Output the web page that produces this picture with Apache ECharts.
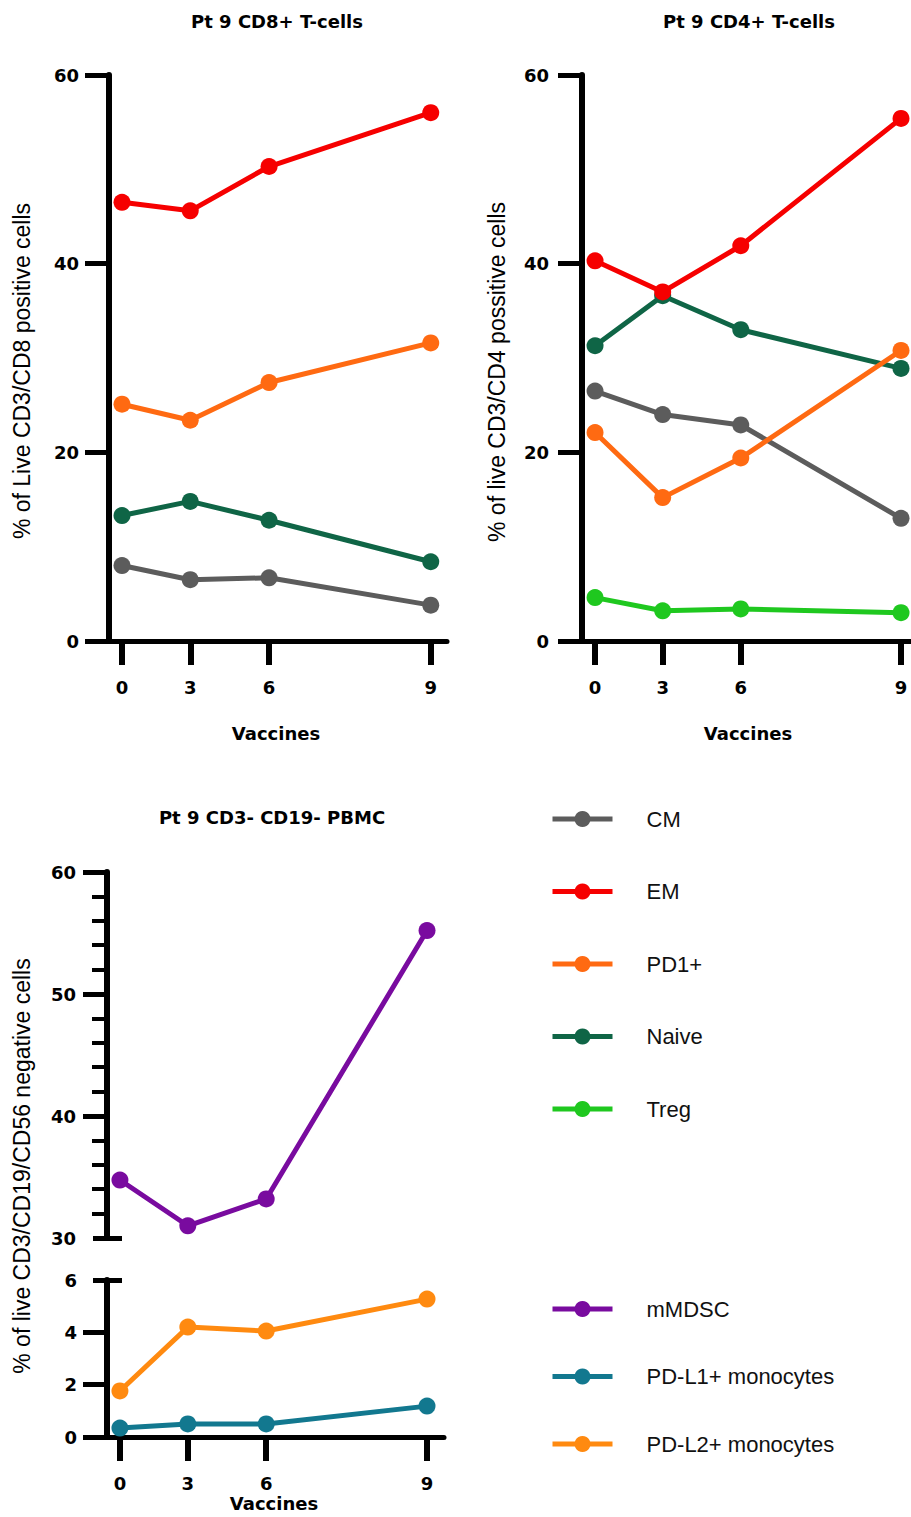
<!DOCTYPE html>
<html><head><meta charset="utf-8">
<script src="https://cdn.jsdelivr.net/npm/echarts@6/dist/echarts.min.js"></script>
<style>html,body{margin:0;padding:0;background:#fff}#c{width:911px;height:1517px}</style>
</head><body><div id="c"></div>
<script>
// ---- data ----
const vaccineLabels = ['0', '3', '6', '9'];
const vaccineTimeline = [0, 4.2, 9.05, 19]; // elapsed time at each vaccine count

const cd8CM    = [8.0, 6.5, 6.7, 3.8];
const cd8EM    = [46.5, 45.6, 50.3, 56.0];
const cd8PD1   = [25.1, 23.4, 27.4, 31.6];
const cd8Naive = [13.3, 14.8, 12.8, 8.4];

const cd4CM    = [26.5, 24.0, 22.9, 13.0];
const cd4EM    = [40.3, 37.0, 41.9, 55.4];
const cd4PD1   = [22.1, 15.2, 19.4, 30.8];
const cd4Naive = [31.3, 36.6, 33.0, 28.9];
const cd4Treg  = [4.6, 3.2, 3.4, 3.0];

const mMDSC    = [34.75, 31.0, 33.2, 55.2];
const pdl1Mono = [0.34, 0.5, 0.5, 1.18];
const pdl2Mono = [1.76, 4.2, 4.05, 5.27];

const tTicks      = [0, 20, 40, 60];
const upperTicks  = [40, 50, 60];
const upperBreak  = [30];
const lowerTicks  = [0, 2, 4];
const lowerBreak  = [6];

const legendTop = ['CM', 'EM', 'PD1+', 'Naive', 'Treg'];
const legendBottom = ['mMDSC', 'PD-L1+ monocytes', 'PD-L2+ monocytes'];

const colors = {
  'CM': '#5c5c5c', 'EM': '#f60000', 'PD1+': '#ff6a12', 'Naive': '#0f6546', 'Treg': '#1fc81f',
  'mMDSC': '#790b9f', 'PD-L1+ monocytes': '#12788f', 'PD-L2+ monocytes': '#ff8a10'
};

// ---- helpers ----
const boldFont = { fontFamily: 'DejaVu Sans', fontWeight: 'bold', fontSize: 18, color: '#000' };
function pairs(vals) { return vals.map((v, i) => [vaccineTimeline[i], v]); }
function nearestLabel(v) {
  let best = 0;
  vaccineTimeline.forEach((t, i) => { if (Math.abs(t - v) < Math.abs(vaccineTimeline[best] - v)) best = i; });
  return vaccineLabels[best];
}
function xAx(gridIndex, min, max, show) {
  return {
    type: 'value', gridIndex, min, max, show,
    axisLine: { show: true, onZero: false, lineStyle: { color: '#000', width: 5 } },
    axisTick: { show: true, customValues: vaccineTimeline, length: 24, lineStyle: { color: '#000', width: 6 } },
    axisLabel: Object.assign({ customValues: vaccineTimeline, formatter: nearestLabel, margin: 37 }, boldFont),
    splitLine: { show: false }
  };
}
function yAx(gridIndex, min, max, interval, tickVals, margin, extra) {
  const a = {
    type: 'value', gridIndex, min, max, interval, position: 'left',
    axisLine: { show: true, onZero: false, lineStyle: { color: '#000', width: 6 } },
    axisTick: { show: true, customValues: tickVals, length: 24, lineStyle: { color: '#000', width: 5 } },
    axisLabel: Object.assign({ margin }, boldFont),
    splitLine: { show: false }
  };
  return Object.assign(a, extra || {});
}
function capAx(gridIndex, min, max, vals) {
  return {
    type: 'value', gridIndex, min, max, position: 'left', offset: -15,
    axisLine: { show: false, onZero: false },
    axisTick: { show: true, customValues: vals, length: 29, lineStyle: { color: '#000', width: 5 } },
    axisLabel: { show: false }, splitLine: { show: false }
  };
}
function line(name, vals, xi, yi, z) {
  return {
    type: 'line', name, xAxisIndex: xi, yAxisIndex: yi, data: pairs(vals),
    symbol: 'circle', symbolSize: 17, z: z || 2,
    lineStyle: { width: 5, color: colors[name] }, itemStyle: { color: colors[name] },
    emphasis: { disabled: true }, animation: false
  };
}
function txt(text, x, y, font, rot) {
  return { type: 'text', x, y, rotation: rot || 0, silent: true,
    style: { text, font, fill: '#000', align: 'center', verticalAlign: 'middle' } };
}
const legendText = { fontFamily: 'Liberation Sans', fontSize: 22, color: '#111', lineHeight: 20, padding: [0, 0, 0, 29] };

const chart = echarts.init(document.getElementById('c'), null, { renderer: 'svg' });
chart.setOption({
  backgroundColor: '#fff',
  animation: false,
  grid: [
    { left: 109, top: 75, width: 338, height: 566 },
    { left: 582, top: 75, width: 329, height: 566 },
    { left: 107, top: 872, width: 337, height: 366 },
    { left: 107, top: 1280, width: 337, height: 157 }
  ],
  xAxis: [
    xAx(0, -0.8, 20.0, true),
    xAx(1, -0.81, 19.62, true),
    xAx(2, -0.8, 20.05, false),
    xAx(3, -0.8, 20.05, true)
  ],
  yAxis: [
    yAx(0, 0, 60, 20, tTicks, 30),
    yAx(1, 0, 60, 20, tTicks, 33),
    yAx(2, 30, 60, 10, upperTicks, 31, { minorTick: { show: true, splitNumber: 5, length: 15, lineStyle: { color: '#000', width: 4 } } }),
    yAx(3, 0, 6, 2, lowerTicks, 30),
    capAx(2, 30, 60, upperBreak),
    capAx(3, 0, 6, lowerBreak)
  ],
  legend: [
    { data: legendTop, orient: 'vertical', left: 550, top: 808, padding: 0, itemWidth: 60, itemHeight: 20, itemGap: 50.5,
      selectedMode: false, lineStyle: { width: 5 }, textStyle: legendText },
    { data: legendBottom, orient: 'vertical', left: 550, top: 1298, padding: 0, itemWidth: 60, itemHeight: 20, itemGap: 45.5,
      selectedMode: false, lineStyle: { width: 5 }, textStyle: legendText }
  ],
  series: [
    line('EM', cd8EM, 0, 0), line('PD1+', cd8PD1, 0, 0), line('Naive', cd8Naive, 0, 0), line('CM', cd8CM, 0, 0),
    line('Naive', cd4Naive, 1, 1), line('CM', cd4CM, 1, 1), line('PD1+', cd4PD1, 1, 1), line('EM', cd4EM, 1, 1), line('Treg', cd4Treg, 1, 1),
    line('mMDSC', mMDSC, 2, 2),
    line('PD-L2+ monocytes', pdl2Mono, 3, 3), line('PD-L1+ monocytes', pdl1Mono, 3, 3)
  ],
  graphic: [
    txt('Pt 9 CD8+ T-cells', 277, 21, 'bold 18px "DejaVu Sans"'),
    txt('Pt 9 CD4+ T-cells', 749, 21, 'bold 18px "DejaVu Sans"'),
    txt('Pt 9 CD3- CD19- PBMC', 272, 817, 'bold 18px "DejaVu Sans"'),
    txt('Vaccines', 276, 733, 'bold 18px "DejaVu Sans"'),
    txt('Vaccines', 748, 733, 'bold 18px "DejaVu Sans"'),
    txt('Vaccines', 274, 1503, 'bold 18px "DejaVu Sans"'),
    txt('% of Live CD3/CD8 positive cells', 22, 371, '23px "Liberation Sans"', Math.PI / 2),
    txt('% of live CD3/CD4 possitive cells', 497, 372, '23px "Liberation Sans"', Math.PI / 2),
    txt('% of live CD3/CD19/CD56 negative cells', 22, 1166, '23px "Liberation Sans"', Math.PI / 2)
  ]
});
</script></body></html>
